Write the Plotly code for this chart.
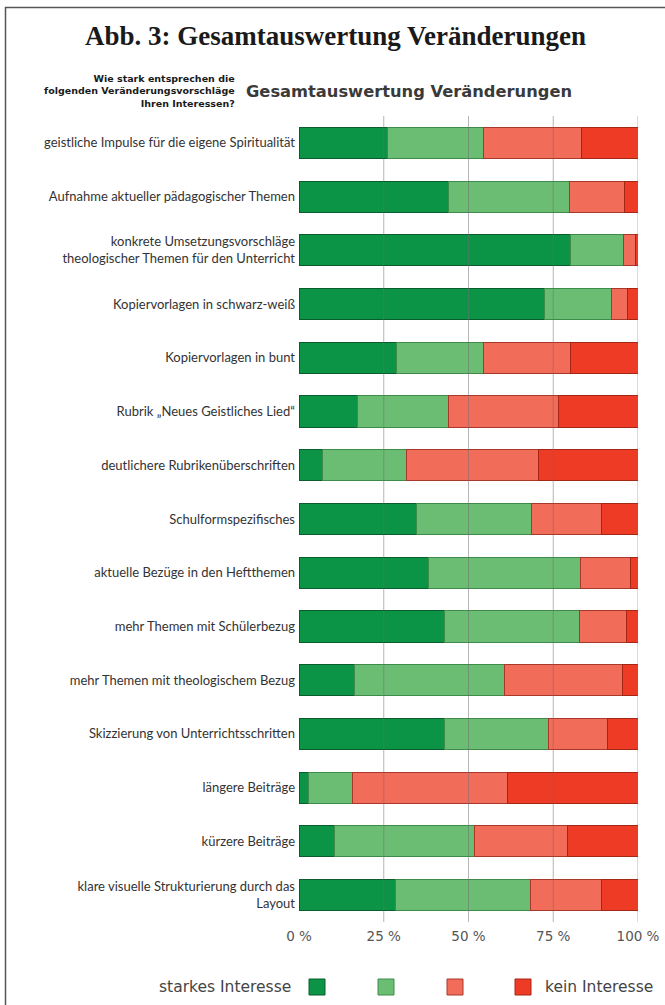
import plotly.graph_objects as go

categories = [
    "geistliche Impulse für die eigene Spiritualität",
    "Aufnahme aktueller pädagogischer Themen",
    "konkrete Umsetzungsvorschläge<br>theologischer Themen für den Unterricht",
    "Kopiervorlagen in schwarz-weiß",
    "Kopiervorlagen in bunt",
    "Rubrik „Neues Geistliches Lied“",
    "deutlichere Rubrikenüberschriften",
    "Schulformspezifisches",
    "aktuelle Bezüge in den Heftthemen",
    "mehr Themen mit Schülerbezug",
    "mehr Themen mit theologischem Bezug",
    "Skizzierung von Unterrichtsschritten",
    "längere Beiträge",
    "kürzere Beiträge",
    "klare visuelle Strukturierung durch das<br>Layout",
]
starkes = [26.1, 44.1, 80.0, 72.3, 28.8, 17.2, 6.8, 34.7, 38.1, 42.8, 16.3, 43.0, 2.8, 10.4, 28.5]
eher_ja = [28.3, 35.7, 15.8, 20.0, 25.6, 26.9, 24.9, 34.0, 44.9, 39.8, 44.3, 30.7, 13.0, 41.5, 39.9]
eher_nein = [28.9, 16.2, 3.4, 4.7, 25.6, 32.5, 38.9, 20.4, 14.9, 13.9, 34.9, 17.4, 45.7, 27.3, 20.7]
kein = [16.7, 4.0, 0.8, 3.0, 20.0, 23.4, 29.4, 10.9, 2.1, 3.5, 4.5, 8.9, 38.5, 20.8, 10.9]

series_names = ["starkes Interesse", "eher starkes Interesse", "eher kein Interesse", "kein Interesse"]
colors = ["#0b9446", "#6cbd74", "#f26c5a", "#ee3b26"]
edge_colors = ["#0a5c2c", "#3f8c4a", "#a8382a", "#a42614"]
tick_vals = [0, 25, 50, 75, 100]
tick_text = ["0 %", "25 %", "50 %", "75 %", "100 %"]

W, H = 665, 1005
ML, MR, MT, MB = 299, 27, 116, 83
PW, PH = W - ML - MR, H - MT - MB


def px(x):
    return (x - ML) / PW


def py(y):
    return (H - MB - y) / PH


fig = go.Figure()
for name, vals, col, ec in zip(series_names, [starkes, eher_ja, eher_nein, kein], colors, edge_colors):
    fig.add_trace(go.Bar(
        y=categories, x=vals, name=name, orientation="h",
        marker=dict(color=col, line=dict(color=ec, width=1)),
        showlegend=False,
    ))

shapes = []
# gridlines above bars
for v in tick_vals[1:]:
    shapes.append(dict(type="line", xref="x", yref="paper", x0=v, x1=v, y0=0, y1=1,
                       line=dict(color="rgba(110,110,110,0.5)", width=1), layer="above"))
# frame
shapes.append(dict(type="line", xref="paper", yref="paper", x0=px(5), x1=px(665), y0=py(7.5), y1=py(7.5),
                   line=dict(color="#555555", width=1.5)))
shapes.append(dict(type="line", xref="paper", yref="paper", x0=px(5.5), x1=px(5.5), y0=py(7), y1=py(1005),
                   line=dict(color="#555555", width=1.5)))
# legend swatches
sw_centers = [317, 386, 455, 523]
LEG_Y = 987
for cx, col, ec in zip(sw_centers, colors, edge_colors):
    shapes.append(dict(type="rect", xref="paper", yref="paper",
                       x0=px(cx - 8), x1=px(cx + 8), y0=py(LEG_Y - 8), y1=py(LEG_Y + 8),
                       fillcolor=col, line=dict(color=ec, width=1)))

annotations = [
    dict(text="<b>Abb. 3: Gesamtauswertung Veränderungen</b>", xref="paper", yref="paper",
         x=px(335), y=py(36), xanchor="center", yanchor="middle", showarrow=False,
         font=dict(family="Liberation Serif", size=27, color="#1a1a1a")),
    dict(text="<b>Wie stark entsprechen die<br>folgenden Veränderungsvorschläge<br>Ihren Interessen?</b>",
         xref="paper", yref="paper", x=px(237), y=py(91), xanchor="right", yanchor="middle",
         align="right", showarrow=False,
         font=dict(family="DejaVu Sans", size=9.5, color="#1a1a1a")),
    dict(text="<b>Gesamtauswertung Veränderungen</b>", xref="paper", yref="paper",
         x=px(244), y=py(92), xanchor="left", yanchor="middle", showarrow=False,
         font=dict(family="DejaVu Sans", size=16.3, color="#3a3a3a")),
    dict(text="starkes Interesse", xref="paper", yref="paper",
         x=px(293), y=py(LEG_Y), xanchor="right", yanchor="middle", showarrow=False,
         font=dict(family="DejaVu Sans", size=15.5, color="#444444")),
    dict(text="kein Interesse", xref="paper", yref="paper",
         x=px(543), y=py(LEG_Y), xanchor="left", yanchor="middle", showarrow=False,
         font=dict(family="DejaVu Sans", size=15.5, color="#444444")),
]

fig.update_layout(
    width=W, height=H,
    margin=dict(l=ML, r=MR, t=MT, b=MB, pad=0, autoexpand=False),
    paper_bgcolor="white", plot_bgcolor="white",
    barmode="stack", bargap=0.42,
    shapes=shapes, annotations=annotations,
    xaxis=dict(range=[0, 100], tickvals=tick_vals, ticktext=tick_text, showgrid=False,
               zeroline=False, showline=False, ticks="", fixedrange=True, automargin=False,
               ticklabelstandoff=4,
               tickfont=dict(family="DejaVu Sans", size=13.5, color="#555555")),
    yaxis=dict(autorange="reversed", showgrid=False, zeroline=False, showline=False, ticks="",
               automargin=False, ticklabelstandoff=3,
               tickfont=dict(family="Lato", size=13, color="#333333")),
)

fig.write_html("out.html")
